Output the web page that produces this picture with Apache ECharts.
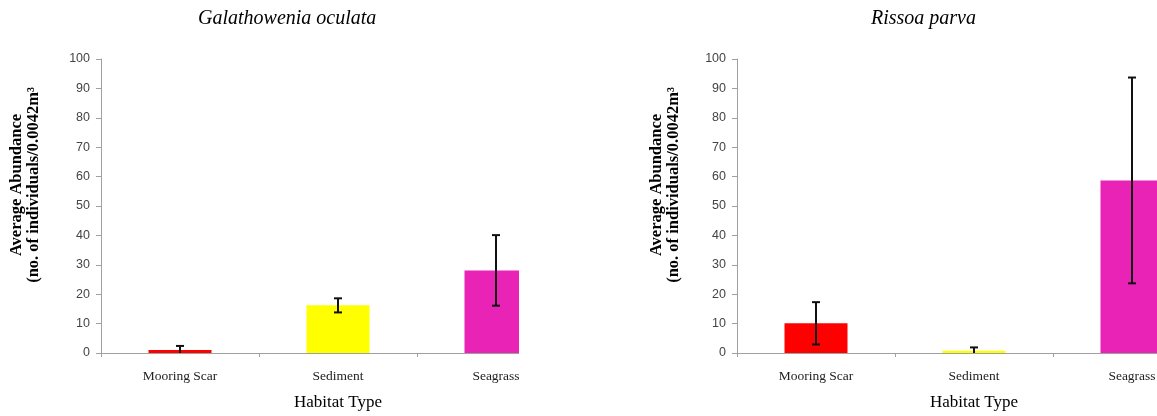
<!DOCTYPE html>
<html>
<head>
<meta charset="utf-8">
<script src="https://cdn.jsdelivr.net/npm/echarts@6/dist/echarts.min.js"></script>
<style>
  html, body { margin: 0; padding: 0; background: #ffffff; overflow: hidden; }
  #chart { width: 1220px; height: 416px; }
</style>
</head>
<body>
<div id="chart"></div>
<script>
// Habitat categories shared by both panels
const categories = ['Mooring Scar', 'Sediment', 'Seagrass'];
const barColors = ['#FF0000', '#FFFF00', '#E823B5'];

// Galathowenia oculata: mean abundance and standard error per habitat
const galathoweniaMean = [1.0, 16.2, 28.1];
const galathoweniaErr = [1.4, 2.4, 12.0];

// Rissoa parva: mean abundance and standard error per habitat
const rissoaMean = [10.1, 0.8, 58.7];
const rissoaErr = [7.2, 1.1, 35.0];

// Value axis range
const yMin = 0;
const yMax = 100;
const yStep = 10;

const yTitle = 'Average Abundance\n(no. of individuals/0.0042m\u00B3';
const xTitle = 'Habitat Type';
const titles = ['Galathowenia oculata', 'Rissoa parva'];

const serif = '"Liberation Serif", "DejaVu Serif", serif';
const sans = '"Liberation Sans", Arial, sans-serif';

function barData(means) {
  return means.map((v, i) => ({ value: v, itemStyle: { color: barColors[i] } }));
}

function errData(means, errs) {
  return means.map((m, i) => [i, m, Math.max(yMin, m - errs[i]), m + errs[i]]);
}

// Draws a vertical error bar with caps from api values
function renderError(params, api) {
  const x = api.value(0);
  const lo = api.coord([x, api.value(2)]);
  const hi = api.coord([x, api.value(3)]);
  const half = 4;
  const style = { stroke: '#111', lineWidth: 2 };
  const children = [
    { type: 'line', shape: { x1: hi[0], y1: hi[1], x2: lo[0], y2: lo[1] }, style },
    { type: 'line', shape: { x1: hi[0] - half, y1: hi[1], x2: hi[0] + half, y2: hi[1] }, style }
  ];
  if (api.value(2) > yMin) {
    children.push({ type: 'line', shape: { x1: lo[0] - half, y1: lo[1], x2: lo[0] + half, y2: lo[1] }, style });
  }
  return { type: 'group', children };
}

function xAxisFor(gridIndex) {
  return {
    type: 'category',
    gridIndex,
    data: categories,
    name: xTitle,
    nameLocation: 'middle',
    nameGap: 41,
    nameTextStyle: { fontFamily: serif, fontSize: 17, color: '#000' },
    axisLine: { lineStyle: { color: '#a0a0a0', width: 1 } },
    axisTick: { show: true, length: 4, alignWithLabel: false, lineStyle: { color: '#a0a0a0' } },
    axisLabel: { fontFamily: serif, fontSize: 13.5, color: '#222', margin: 16, interval: 0 },
    splitLine: { show: false }
  };
}

function yAxisFor(gridIndex) {
  return {
    type: 'value',
    gridIndex,
    min: yMin,
    max: yMax,
    interval: yStep,
    axisLine: { show: true, lineStyle: { color: '#a0a0a0', width: 1 } },
    axisTick: { show: true, length: 5, lineStyle: { color: '#a0a0a0' } },
    axisLabel: { fontFamily: sans, fontSize: 12.5, color: '#444', margin: 11 },
    splitLine: { show: false }
  };
}

function yTitleText(cx, cy) {
  return {
    type: 'text', z: 110, x: cx, y: cy, rotation: Math.PI / 2,
    style: {
      text: yTitle, align: 'center', verticalAlign: 'middle',
      font: 'bold 16.5px ' + serif, lineHeight: 17, fill: '#000'
    }
  };
}

const chart = echarts.init(document.getElementById('chart'), null, { renderer: 'canvas' });

chart.setOption({
  backgroundColor: '#ffffff',
  animation: false,
  title: [
    { text: titles[0], left: 193, top: 4, textStyle: { fontFamily: serif, fontStyle: 'italic', fontWeight: 'normal', fontSize: 20, color: '#000' } },
    { text: titles[1], left: 866, top: 4, textStyle: { fontFamily: serif, fontStyle: 'italic', fontWeight: 'normal', fontSize: 20, color: '#000' } }
  ],
  grid: [
    { left: 101, top: 59, width: 474, height: 295 },
    { left: 737, top: 59, width: 474, height: 295 }
  ],
  xAxis: [xAxisFor(0), xAxisFor(1)],
  yAxis: [yAxisFor(0), yAxisFor(1)],
  series: [
    { type: 'bar', xAxisIndex: 0, yAxisIndex: 0, barWidth: 63, data: barData(galathoweniaMean) },
    { type: 'custom', xAxisIndex: 0, yAxisIndex: 0, renderItem: renderError, data: errData(galathoweniaMean, galathoweniaErr), z: 5 },
    { type: 'bar', xAxisIndex: 1, yAxisIndex: 1, barWidth: 63, data: barData(rissoaMean) },
    { type: 'custom', xAxisIndex: 1, yAxisIndex: 1, renderItem: renderError, data: errData(rissoaMean, rissoaErr), z: 5 }
  ],
  graphic: [
    // The left panel is cut off just past its last bar
    { type: 'rect', z: 100, shape: { x: 519, y: 0, width: 126, height: 416 }, style: { fill: '#ffffff' } },
    yTitleText(25, 185),
    yTitleText(665, 185)
  ]
});
</script>
</body>
</html>
